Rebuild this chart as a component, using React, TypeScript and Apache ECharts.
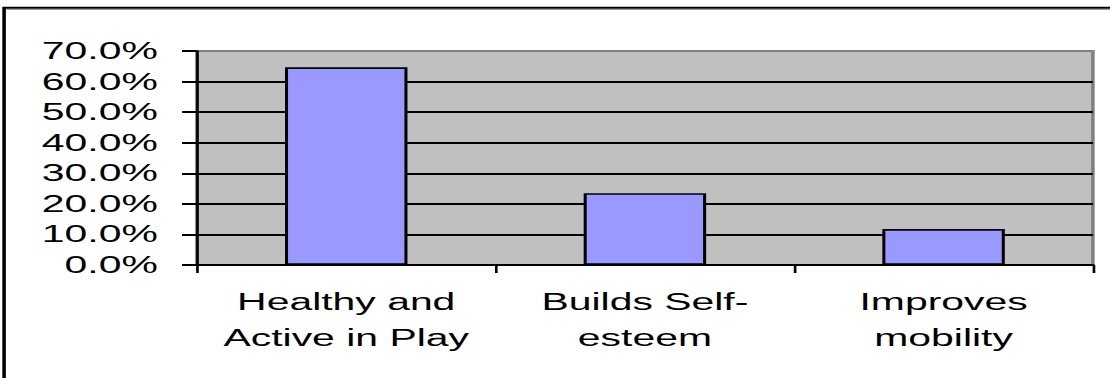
import React, { useEffect, useRef } from "react";
import * as echarts from "echarts";

const categories: string[] = ["Healthy and\nActive in Play", "Builds Self-\nesteem", "Improves\nmobility"];
const values: number[] = [0.647, 0.235, 0.118];
const yMin = 0;
const yMax = 0.7;
const yStep = 0.1;

const STRETCH = 1.7788;
const INNER_W = 624;
const H = 378;
const FONT = "'Liberation Sans', Arial, sans-serif";

export default function App() {
  const ref = useRef<HTMLDivElement>(null);
  useEffect(() => {
    if (!ref.current) return;
    const chart = echarts.init(ref.current, undefined, { renderer: "svg" });
    chart.setOption({
      animation: false,
      backgroundColor: "#ffffff",
      graphic: [
        {
          type: "rect",
          shape: { x: 2.3, y: 7.7, width: 700, height: 500 },
          style: { fill: "none", stroke: "#000", lineWidth: 2 },
          silent: true,
        },
        {
          type: "line",
          shape: { x1: 3.6, y1: 9.6, x2: 700, y2: 9.6 },
          style: { stroke: "#9a9a9a", lineWidth: 1 },
          silent: true,
        },
      ],
      grid: {
        left: 110.7,
        right: 9.6,
        top: 51,
        bottom: 113,
        show: true,
        backgroundColor: "#C0C0C0",
        borderColor: "#808080",
        borderWidth: 2,
      },
      xAxis: {
        type: "category",
        data: categories,
        axisLine: { show: true, lineStyle: { color: "#000", width: 2 } },
        axisTick: { show: true, length: 8, lineStyle: { color: "#000", width: 1.5 } },
        axisLabel: {
          color: "#000",
          fontFamily: FONT,
          fontSize: 23,
          lineHeight: 36,
          margin: 19,
          interval: 0,
        },
        splitLine: { show: false },
      },
      yAxis: {
        type: "value",
        min: yMin,
        max: yMax,
        interval: yStep,
        axisLine: { show: true, lineStyle: { color: "#000", width: 1.5 } },
        axisTick: { show: true, length: 8.4, lineStyle: { color: "#000", width: 2 } },
        axisLabel: {
          color: "#000",
          fontFamily: FONT,
          fontSize: 23,
          margin: 22,
          formatter: (v: number) => (v * 100).toFixed(1) + "%",
        },
        splitLine: { show: true, showMaxLine: false, lineStyle: { color: "#000", width: 2 } },
      },
      series: [
        {
          type: "bar",
          data: values,
          barWidth: "41%",
          itemStyle: { color: "#9999FF", borderColor: "#000", borderWidth: 1.7 },
        },
      ],
    });
    return () => chart.dispose();
  }, []);
  return (
    <div
      ref={ref}
      style={{
        position: "absolute",
        left: 0,
        top: 0,
        width: INNER_W,
        height: H,
        transform: `scaleX(${STRETCH})`,
        transformOrigin: "0 0",
      }}
    />
  );
}
